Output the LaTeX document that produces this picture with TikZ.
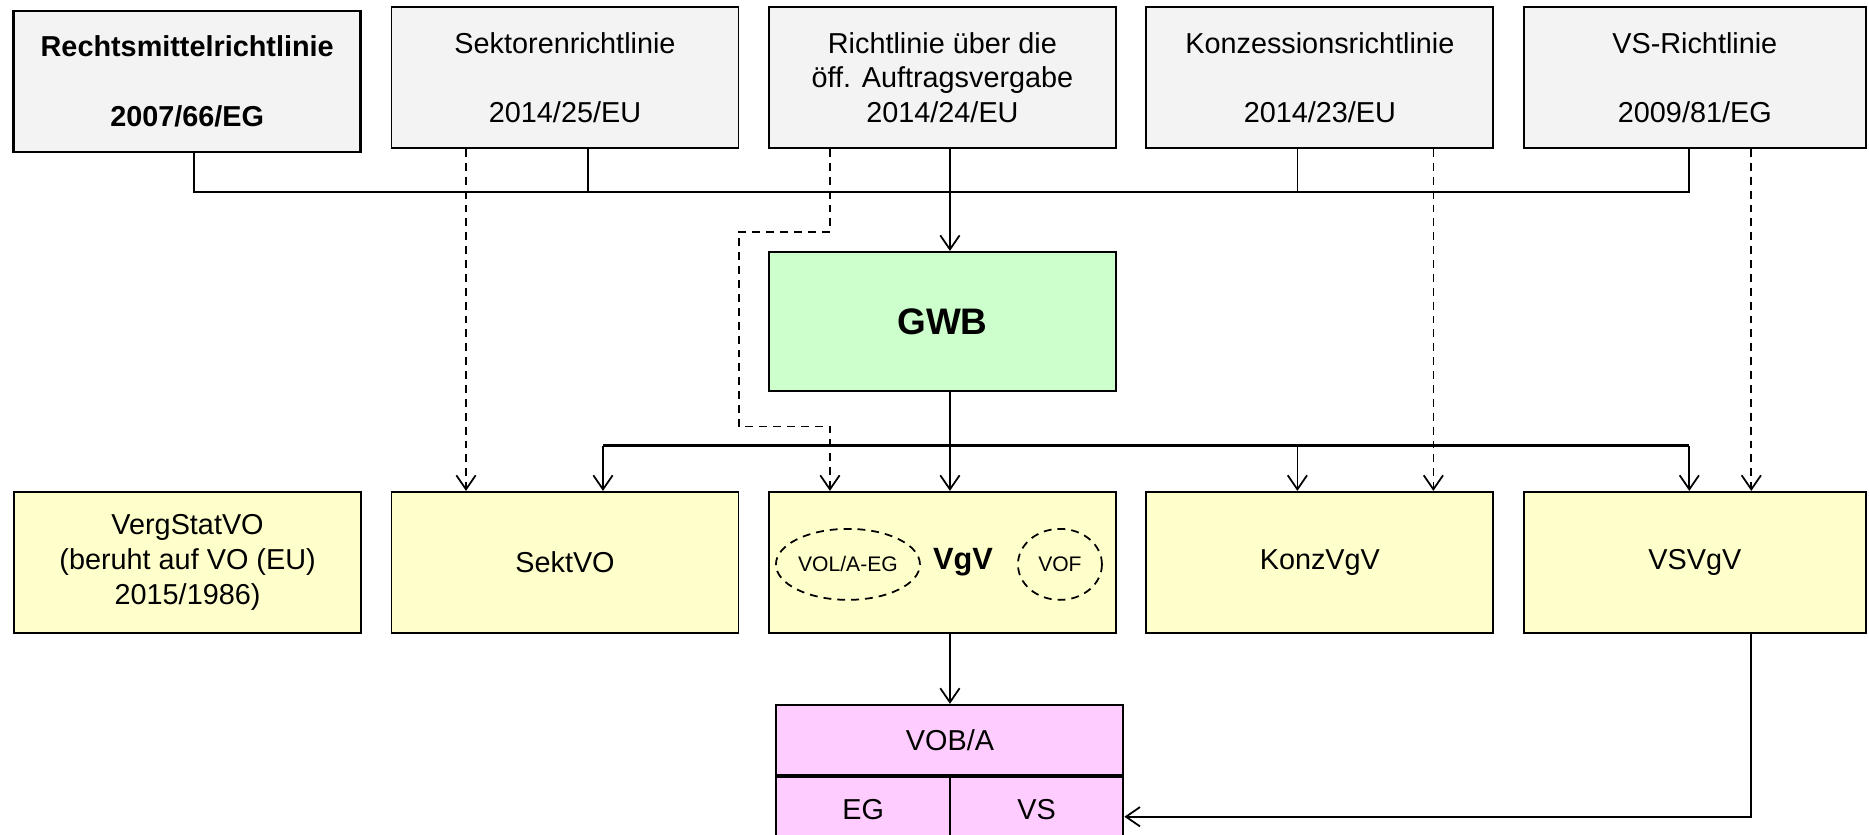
\documentclass[tikz,border=0pt]{standalone}
\usepackage{fontspec}
\setmainfont{Liberation Sans}
\usetikzlibrary{positioning, arrows.meta, shapes.geometric}
\definecolor{rlgray}{HTML}{F3F3F3}
\definecolor{voyellow}{HTML}{FFFFCC}
\definecolor{gwbgreen}{HTML}{CCFFCC}
\definecolor{vobpink}{HTML}{FFCCFF}

\begin{document}
\begin{tikzpicture}[>={Straight Barb[length=8pt, width=11pt]}, node distance = 0.57cm]
    \tikzset{BoxStyle/.style = {shape          = rectangle,
                                draw,
                                line width     = 1.1pt,
                                minimum width  = 6.94cm,
                                minimum height = 2.82cm,
                                align          = center,
                                font           = \fontsize{16.4}{19.8}\selectfont}}
    \tikzset{RlStyle/.style   = {BoxStyle, fill = rlgray}}
    \tikzset{VoStyle/.style   = {BoxStyle, fill = voyellow}}
    \tikzset{EdgeStyle/.style = {line width = 1pt}}
    \tikzset{DashStyle/.style = {line width   = 1pt,
                                 dash pattern = on 4.5pt off 3.4pt}}
    \tikzset{BusStyle/.style  = {line width = 1.2pt}}
    \tikzset{OvalStyle/.style = {shape          = ellipse,
                                 draw,
                                 DashStyle,
                                 inner sep      = 0pt,
                                 minimum height = 1.42cm,
                                 font           = \fontsize{12}{14}\selectfont}}
    \useasboundingbox (0,0) rectangle (37.38,-16.68);

    \node[RlStyle] (Sektoren) at (11.3,-1.55) {Sektorenrichtlinie\\~\\2014/25/EU};
    \node[RlStyle, left = of Sektoren, yshift = -0.08cm, line width = 1.5pt,
          font = \fontsize{16.4}{19.8}\selectfont\bfseries]
          (Rechtsmittel) {Rechtsmittelrichtlinie\\~\\2007/66/EG};
    \node[RlStyle, right = of Sektoren] (Oeff) {Richtlinie über die\\öff. Auftragsvergabe\\2014/24/EU};
    \node[RlStyle, right = of Oeff] (Konz) {Konzessionsrichtlinie\\~\\2014/23/EU};
    \node[RlStyle, right = of Konz, minimum width = 6.84cm] (VS) {VS-Richtlinie\\~\\2009/81/EG};

    \node[BoxStyle, below = 2.04cm of Oeff, fill = gwbgreen, minimum height = 2.78cm,
          font = \fontsize{21}{24}\selectfont\bfseries] (GWB) {GWB};

    \node[VoStyle, below = 1.98cm of GWB] (VgV) {};
    \node[font = \fontsize{17.5}{20}\selectfont\bfseries] (VgVLabel)
          at ([xshift = 0.41cm]VgV.center) {VgV};
    \node[OvalStyle, minimum width = 2.88cm] (VOLAEG)
          at ([xshift = -1.89cm, yshift = -0.04cm]VgV.center) {VOL/A-EG};
    \node[OvalStyle, minimum width = 1.68cm] (VOF)
          at ([xshift = 2.35cm, yshift = -0.04cm]VgV.center) {VOF};
    \node[VoStyle, left = of VgV] (SektVO) {SektVO};
    \node[VoStyle, left = of SektVO] (VergStatVO) {VergStatVO\\(beruht auf VO (EU)\\2015/1986)};
    \node[VoStyle, right = of VgV] (KonzVgV) {KonzVgV};
    \node[VoStyle, right = of KonzVgV, minimum width = 6.84cm] (VSVgV) {VSVgV};

    \node[BoxStyle, below = 1.4cm of VgV, xshift = 0.15cm, fill = vobpink,
          minimum height = 1.4cm] (VOBA) {VOB/A};
    \node[BoxStyle, anchor = north west, fill = vobpink, minimum width = 3.47cm,
          minimum height = 1.32cm] (VOBEG) at (VOBA.south west) {EG};
    \node[BoxStyle, anchor = north east, fill = vobpink, minimum width = 3.47cm,
          minimum height = 1.32cm] (VOBVS) at (VOBA.south east) {VS};

    \coordinate[below = 0.86cm of Sektoren.south] (TopBus);
    \coordinate[below = 1.08cm of GWB.south] (LowBus);

    \draw[BusStyle] ([xshift = 0.13cm]Rechtsmittel.south) |- (TopBus)
                    -| ([xshift = -0.11cm]VS.south);
    \draw[EdgeStyle] ([xshift = 0.46cm]Sektoren.south) -- ([xshift = 0.46cm]Sektoren.south |- TopBus);
    \draw[EdgeStyle] ([xshift = -0.45cm]Konz.south) -- ([xshift = -0.45cm]Konz.south |- TopBus);
    \draw[EdgeStyle, ->] ([xshift = 0.15cm]Oeff.south) -- ([xshift = 0.15cm]GWB.north);

    \draw[BusStyle, line width = 1.7pt] ([xshift = 0.76cm]SektVO.north |- LowBus)
                    -- ([xshift = -0.11cm]VSVgV.north |- LowBus);
    \draw[EdgeStyle, ->] ([xshift = 0.15cm]GWB.south) -- ([xshift = 0.15cm]VgV.north);
    \draw[EdgeStyle, ->] ([xshift = 0.76cm]SektVO.north |- LowBus) -- ([xshift = 0.76cm]SektVO.north);
    \draw[EdgeStyle, ->] ([xshift = -0.45cm]KonzVgV.north |- LowBus) -- ([xshift = -0.45cm]KonzVgV.north);
    \draw[EdgeStyle, ->] ([xshift = -0.11cm]VSVgV.north |- LowBus) -- ([xshift = -0.11cm]VSVgV.north);

    \draw[DashStyle, ->] ([xshift = -1.98cm]Sektoren.south) -- ([xshift = -1.98cm]SektVO.north);
    \draw[DashStyle, ->] ([xshift = -2.25cm]Oeff.south) -- ++(0,-1.66) -- ++(-1.82,0)
                         -- ++(0,-3.89) -- ++(1.82,0) -- ([xshift = -2.25cm]VgV.north);
    \draw[DashStyle, ->] ([xshift = 2.27cm]Konz.south) -- ([xshift = 2.27cm]KonzVgV.north);
    \draw[DashStyle, ->] ([xshift = 1.13cm]VS.south) -- ([xshift = 1.13cm]VSVgV.north);

    \draw[EdgeStyle, ->] ([xshift = 0.15cm]VgV.south) -- (VOBA.north);
    \draw[EdgeStyle, ->] ([xshift = 1.13cm]VSVgV.south) |- ([yshift = -0.14cm]VOBVS.east);
\end{tikzpicture}
\end{document}
